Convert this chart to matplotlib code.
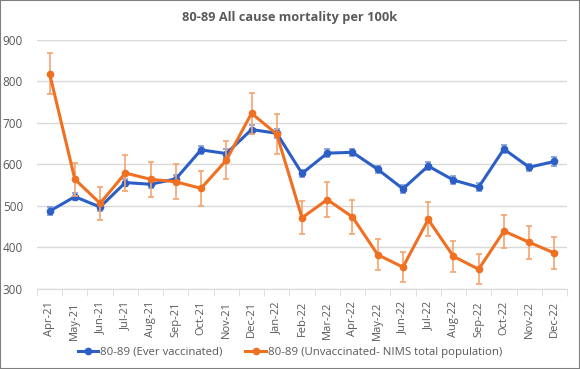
import numpy as np
import matplotlib
matplotlib.use("Agg")
import matplotlib.pyplot as plt
from matplotlib.lines import Line2D

plt.rcParams['font.family'] = ['Open Sans', 'DejaVu Sans']

# ============================================================================
months = ['Apr-21', 'May-21', 'Jun-21', 'Jul-21', 'Aug-21', 'Sep-21', 'Oct-21',
          'Nov-21', 'Dec-21', 'Jan-22', 'Feb-22', 'Mar-22', 'Apr-22', 'May-22',
          'Jun-22', 'Jul-22', 'Aug-22', 'Sep-22', 'Oct-22', 'Nov-22', 'Dec-22']

vacc = [487, 522, 497, 556, 552, 565, 635, 626, 684, 675, 578, 627, 629,
        588, 541, 596, 562, 545, 637, 593, 607]
vacc_err = [9, 9, 10, 9, 9, 10, 9, 10, 11, 11, 9, 9, 9, 9, 9, 9, 9, 9, 10, 9, 10]

unvacc = [819, 564, 506, 579, 564, 558, 542, 610, 723, 673, 471, 515, 473,
          382, 352, 467, 378, 347, 439, 412, 386]
unvacc_err = [50, 40, 40, 44, 42, 42, 42, 46, 50, 49, 40, 42, 40,
              37, 36, 41, 37, 36, 40, 40, 38]

label_vacc = '80-89 (Ever vaccinated)'
label_unvacc = '80-89 (Unvaccinated- NIMS total population)'

BLUE = '#2B5FC6'
ORANGE = '#F07022'
GREY = '#595959'

# ============================================================================
fig = plt.figure(figsize=(5.8, 3.69), dpi=100)
ax = fig.add_axes([37/580, 1 - 288.7/369, (567 - 37)/580, (288.7 - 40)/369])

x = np.arange(len(months))
ax.errorbar(x, vacc, yerr=vacc_err, color=BLUE, ecolor='#7C9BDB', lw=2.2,
            elinewidth=1.2, capsize=2.5, capthick=1.2, marker='o', ms=4.5,
            zorder=3)
ax.errorbar(x, unvacc, yerr=unvacc_err, color=ORANGE, ecolor='#F4A46E', lw=2.2,
            elinewidth=1.2, capsize=2.5, capthick=1.2, marker='o', ms=4.5,
            zorder=4)

ax.set_xlim(-0.5, len(months) - 0.5)
ax.set_ylim(300, 900)
ax.set_yticks(range(300, 901, 100))
ax.yaxis.grid(True, color='#D9D9D9', lw=1)
ax.set_axisbelow(True)

ax.set_xticks(x)
ax.set_xticklabels(months, rotation=90)
ax.set_xticks(np.arange(-0.5, len(months)), minor=True)
ax.tick_params(axis='x', which='major', length=0, pad=9, labelsize=8, labelcolor=GREY)
ax.tick_params(axis='x', which='minor', length=5, color='#D9D9D9')
ax.tick_params(axis='y', length=0, pad=10, labelsize=8.5, labelcolor=GREY)

for s in ['top', 'right', 'left']:
    ax.spines[s].set_visible(False)
ax.spines['bottom'].set_color('#D9D9D9')

fig.text(0.5, 1 - 17/369, '80-89 All cause mortality per 100k', ha='center',
         va='center', fontsize=9.2, fontweight='bold', color=GREY)

handles = [Line2D([], [], color=BLUE, lw=2.2, marker='o', ms=4.5),
           Line2D([], [], color=ORANGE, lw=2.2, marker='o', ms=4.5)]
fig.legend(handles, [label_vacc, label_unvacc], loc='center',
           bbox_to_anchor=(0.5, 1 - 352/369), ncol=2, frameon=False,
           fontsize=8.2, labelcolor=GREY, handlelength=1.8, columnspacing=2.0,
           handletextpad=0.2)

# grey border round the whole picture
fig.patches.append(plt.Rectangle((0, 0), 1, 1, transform=fig.transFigure,
                                 fill=False, edgecolor='#7F7F7F', lw=1.5))

fig.savefig('out.png', dpi=100)
